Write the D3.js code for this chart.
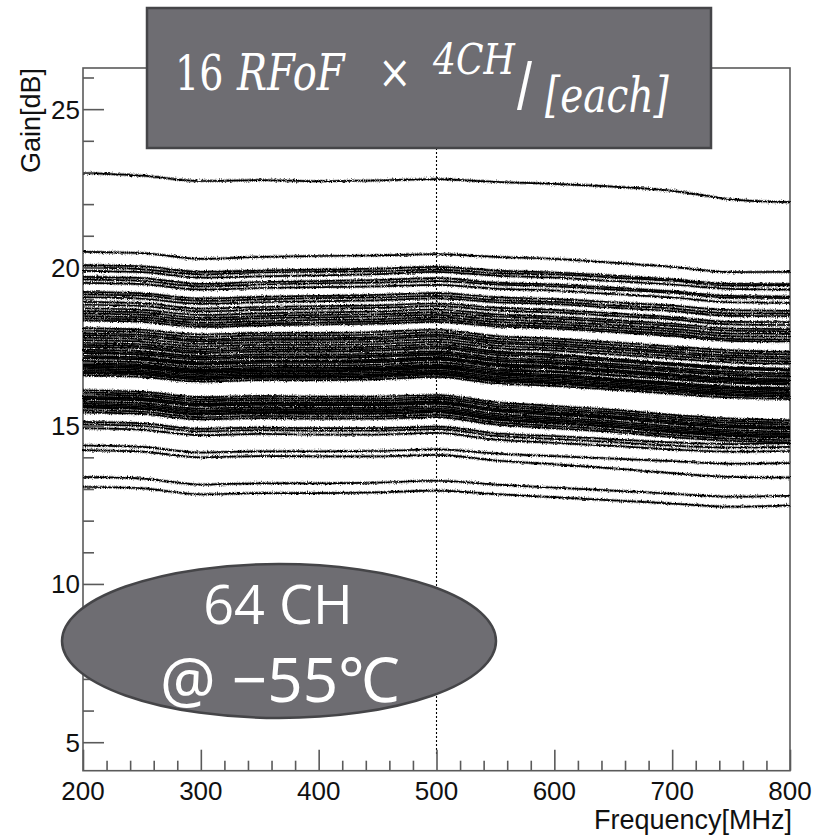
<!DOCTYPE html>
<html>
<head>
<meta charset="utf-8">
<script src="https://cdn.jsdelivr.net/npm/d3@7"></script>
<style>
html,body{margin:0;padding:0;background:#fff;}
svg{display:block;}
</style>
</head>
<body>
<svg id="chart" width="815" height="835"></svg>
<script>
// ---------- data ----------
const frequencies = [200,250,300,350,400,450,500,550,600,650,700,750,800];
const xTicks = [200,300,400,500,600,700,800];
const yTicks = [5,10,15,20,25];
const xLabel = "Frequency[MHz]";
const yLabel = "Gain[dB]";
const markerFreq = 500;

const gainTop = [22.98,22.90,22.73,22.76,22.72,22.75,22.79,22.70,22.64,22.55,22.42,22.15,22.06];

const gainUpper = [
 [20.49,20.45,20.27,20.33,20.36,20.38,20.42,20.33,20.27,20.15,20.02,19.85,19.86],
 [20.07,20.03,19.86,19.90,19.93,19.96,20.02,19.90,19.84,19.74,19.62,19.48,19.47],
 [20.00,19.94,19.78,19.84,19.86,19.88,19.93,19.82,19.78,19.68,19.58,19.42,19.44],
 [19.89,19.85,19.68,19.72,19.75,19.79,19.86,19.74,19.68,19.57,19.46,19.32,19.30],
 [19.70,19.66,19.48,19.54,19.57,19.60,19.66,19.52,19.46,19.36,19.24,19.10,19.08],
 [19.62,19.57,19.40,19.46,19.50,19.52,19.57,19.46,19.40,19.30,19.20,19.04,19.03],
 [19.51,19.47,19.30,19.35,19.38,19.40,19.45,19.33,19.27,19.16,19.05,18.90,18.88],
 [19.23,19.18,19.02,19.07,19.10,19.13,19.19,19.06,19.00,18.90,18.79,18.65,18.63],
 [19.15,19.11,18.94,18.99,19.03,19.05,19.10,18.97,18.91,18.80,18.70,18.55,18.54],
 [19.06,19.01,18.85,18.90,18.93,18.96,19.02,18.90,18.84,18.73,18.62,18.47,18.46],
 [18.91,18.87,18.70,18.75,18.78,18.80,18.86,18.73,18.66,18.55,18.43,18.28,18.27],
 [18.82,18.78,18.61,18.66,18.70,18.72,18.78,18.64,18.58,18.47,18.36,18.20,18.18],
 [18.71,18.66,18.50,18.55,18.58,18.61,18.67,18.52,18.45,18.34,18.22,18.07,18.05],
 [18.62,18.58,18.41,18.46,18.50,18.52,18.58,18.45,18.38,18.27,18.15,18.00,17.98],
 [18.55,18.50,18.34,18.39,18.42,18.45,18.50,18.36,18.29,18.18,18.06,17.91,17.90],
 [18.46,18.42,18.25,18.30,18.34,18.36,18.42,18.28,18.21,18.10,17.98,17.83,17.81],
 [18.39,18.35,18.18,18.23,18.26,18.29,18.35,18.20,18.13,18.02,17.90,17.74,17.72],
 [18.33,18.28,18.12,18.17,18.20,18.22,18.28,18.14,18.07,17.96,17.84,17.68,17.66]
];

const gainMiddle = [
 [18.08,18.03,17.88,17.93,17.93,17.96,18.03,17.83,17.75,17.63,17.50,17.38,17.33],
 [18.00,17.95,17.80,17.85,17.85,17.88,17.95,17.75,17.67,17.55,17.42,17.30,17.25],
 [17.92,17.87,17.72,17.77,17.77,17.80,17.87,17.67,17.59,17.47,17.34,17.22,17.17],
 [17.86,17.81,17.66,17.71,17.71,17.74,17.81,17.61,17.53,17.41,17.28,17.16,17.11],
 [17.78,17.73,17.58,17.63,17.63,17.66,17.73,17.53,17.45,17.33,17.20,17.08,17.03],
 [17.70,17.65,17.50,17.55,17.55,17.58,17.65,17.45,17.37,17.25,17.12,17.00,16.95],
 [17.62,17.57,17.42,17.47,17.47,17.50,17.57,17.35,17.25,17.10,16.95,16.82,16.77],
 [17.55,17.50,17.35,17.40,17.40,17.43,17.50,17.30,17.22,17.10,16.97,16.85,16.80],
 [17.49,17.44,17.29,17.34,17.34,17.37,17.44,17.24,17.16,17.04,16.91,16.79,16.74],
 [17.40,17.35,17.20,17.25,17.25,17.28,17.35,17.15,17.07,16.95,16.82,16.70,16.65],
 [17.34,17.29,17.14,17.19,17.19,17.22,17.29,17.09,17.01,16.89,16.76,16.64,16.59],
 [17.29,17.24,17.09,17.14,17.14,17.17,17.24,17.04,16.96,16.84,16.71,16.59,16.54],
 [17.21,17.16,17.01,17.06,17.06,17.09,17.16,16.96,16.88,16.76,16.63,16.51,16.46],
 [17.17,17.12,16.97,17.02,17.02,17.05,17.12,16.92,16.84,16.72,16.59,16.47,16.42],
 [17.13,17.08,16.93,16.98,16.98,17.01,17.08,16.88,16.80,16.68,16.55,16.43,16.38],
 [17.05,17.00,16.85,16.90,16.90,16.93,17.00,16.80,16.72,16.60,16.47,16.35,16.30],
 [16.98,16.93,16.78,16.83,16.83,16.86,16.93,16.75,16.69,16.59,16.48,16.38,16.33],
 [16.94,16.89,16.74,16.79,16.79,16.82,16.89,16.69,16.61,16.49,16.36,16.24,16.19],
 [16.90,16.85,16.70,16.75,16.75,16.78,16.85,16.65,16.57,16.45,16.32,16.20,16.15],
 [16.86,16.81,16.66,16.71,16.71,16.74,16.81,16.61,16.53,16.41,16.28,16.16,16.11],
 [16.80,16.75,16.60,16.65,16.65,16.68,16.75,16.55,16.47,16.35,16.22,16.10,16.05],
 [16.75,16.70,16.55,16.60,16.60,16.63,16.70,16.50,16.42,16.30,16.17,16.05,16.00],
 [16.70,16.65,16.50,16.55,16.55,16.58,16.65,16.45,16.37,16.25,16.12,16.00,15.95],
 [16.66,16.61,16.46,16.51,16.51,16.54,16.61,16.41,16.33,16.21,16.08,15.96,15.91],
 [16.59,16.54,16.39,16.44,16.44,16.47,16.54,16.34,16.26,16.14,16.01,15.89,15.84]
];

const gainLower = [
 [16.12,16.07,15.90,15.94,15.92,15.92,15.97,15.74,15.62,15.50,15.34,15.22,15.17],
 [16.05,16.00,15.83,15.87,15.85,15.85,15.90,15.67,15.55,15.43,15.27,15.15,15.10],
 [15.99,15.94,15.77,15.81,15.79,15.79,15.84,15.61,15.49,15.37,15.21,15.09,15.04],
 [15.92,15.87,15.70,15.74,15.72,15.72,15.77,15.54,15.42,15.30,15.14,15.02,14.97],
 [15.88,15.83,15.66,15.70,15.68,15.68,15.73,15.50,15.38,15.26,15.10,14.98,14.93],
 [15.84,15.79,15.62,15.66,15.64,15.64,15.69,15.46,15.34,15.22,15.06,14.94,14.89],
 [15.76,15.71,15.54,15.58,15.56,15.56,15.61,15.38,15.26,15.14,14.98,14.86,14.81],
 [15.70,15.65,15.48,15.52,15.50,15.50,15.55,15.32,15.20,15.08,14.92,14.80,14.75],
 [15.65,15.60,15.43,15.47,15.45,15.45,15.50,15.27,15.15,15.03,14.87,14.75,14.70],
 [15.60,15.55,15.38,15.42,15.40,15.40,15.45,15.22,15.10,14.98,14.82,14.70,14.65],
 [15.57,15.52,15.35,15.39,15.37,15.37,15.42,15.19,15.07,14.95,14.79,14.67,14.62],
 [15.49,15.44,15.27,15.31,15.29,15.29,15.34,15.11,14.99,14.87,14.71,14.59,14.54],
 [15.42,15.37,15.20,15.24,15.22,15.22,15.27,15.04,14.92,14.80,14.64,14.52,14.47],
 [15.12,15.07,14.90,14.94,14.92,14.92,14.97,14.76,14.67,14.57,14.47,14.42,14.45],
 [15.04,14.99,14.82,14.86,14.84,14.84,14.89,14.68,14.58,14.48,14.37,14.31,14.33],
 [14.92,14.87,14.70,14.74,14.72,14.72,14.77,14.56,14.46,14.36,14.25,14.18,14.20]
];

const gainBottom = [
 [14.38,14.33,14.15,14.19,14.19,14.20,14.25,14.12,14.04,13.96,13.88,13.80,13.82],
 [14.23,14.18,14.00,14.04,14.03,14.03,14.08,13.90,13.78,13.65,13.50,13.38,13.36],
 [13.38,13.33,13.14,13.18,13.18,13.20,13.26,13.14,13.04,12.95,12.85,12.76,12.78],
 [13.07,13.02,12.83,12.87,12.87,12.89,12.95,12.84,12.74,12.64,12.54,12.44,12.48]
];

const channels = [gainTop].concat(gainUpper, gainMiddle, gainLower, gainBottom);

// ---------- layout ----------
const svg = d3.select("#chart");
const x = d3.scaleLinear().domain([200,800]).range([83,790]);
const y = d3.scaleLinear().domain([4.1,26.3]).range([770.7,68]);
const axisColor = "#5a5a5a";
const sans = "'Liberation Sans', Arial, Helvetica, sans-serif";

// texture filter for the measured traces (visual style only)
const defs = svg.append("defs");
const filt = defs.append("filter").attr("id","grain")
  .attr("filterUnits","userSpaceOnUse")
  .attr("x",0).attr("y",0).attr("width",815).attr("height",835);
filt.append("feTurbulence").attr("type","fractalNoise")
  .attr("baseFrequency","0.8 0.5").attr("numOctaves",2).attr("seed",3).attr("result","noise");
filt.append("feDisplacementMap").attr("in","SourceGraphic").attr("in2","noise")
  .attr("scale",3).attr("xChannelSelector","R").attr("yChannelSelector","G");

// frame
svg.append("rect")
  .attr("x", x(200)).attr("y", y(26.3))
  .attr("width", x(800)-x(200)).attr("height", y(4.1)-y(26.3))
  .attr("fill","none").attr("stroke",axisColor).attr("stroke-width",1.6);

// lines
const line = d3.line()
  .x((d,i)=>x(frequencies[i]))
  .y(d=>y(d))
  .curve(d3.curveMonotoneX);

const gLines = svg.append("g").attr("filter","url(#grain)");
gLines.selectAll("path.fuzz").data(channels).join("path")
  .attr("class","fuzz")
  .attr("d", line)
  .attr("fill","none")
  .attr("stroke","#000")
  .attr("stroke-opacity",0.6)
  .attr("stroke-width",3.6)
  .attr("stroke-dasharray","0.9 1.3");
gLines.selectAll("path.core").data(channels).join("path")
  .attr("class","core")
  .attr("d", line)
  .attr("fill","none")
  .attr("stroke","#000")
  .attr("stroke-width",1.7);

// dotted marker line at 500 MHz
svg.append("line")
  .attr("x1",x(markerFreq)).attr("x2",x(markerFreq))
  .attr("y1",y(26.3)).attr("y2",y(4.6))
  .attr("stroke","#000").attr("stroke-width",1.1)
  .attr("stroke-dasharray","2 2");

// y axis ticks (inward)
const yMinor = d3.range(5,27,1).filter(v=>v%5!==0);
const yAxisMaj = d3.axisRight(y).tickValues(yTicks).tickSize(21).tickFormat("");
const yAxisMin = d3.axisRight(y).tickValues(yMinor).tickSize(11).tickFormat("");
[yAxisMaj,yAxisMin].forEach(ax=>{
  const g = svg.append("g").attr("transform",`translate(${x(200)},0)`).call(ax);
  g.select(".domain").remove();
  g.selectAll("line").attr("stroke",axisColor).attr("stroke-width",1.6);
});
svg.append("g").selectAll("text").data(yTicks).join("text")
  .attr("x",80).attr("y",d=>y(d)).attr("dy","0.36em")
  .attr("text-anchor","end")
  .style("font-family",sans).style("font-size","26px").attr("fill","#111")
  .text(d=>d);

// x axis ticks (inward)
const xMinor = d3.range(200,801,20).filter(v=>v%100!==0);
const xAxisMaj = d3.axisTop(x).tickValues(xTicks).tickSize(21).tickFormat("");
const xAxisMin = d3.axisTop(x).tickValues(xMinor).tickSize(10).tickFormat("");
[xAxisMaj,xAxisMin].forEach(ax=>{
  const g = svg.append("g").attr("transform",`translate(0,${y(4.1)})`).call(ax);
  g.select(".domain").remove();
  g.selectAll("line").attr("stroke",axisColor).attr("stroke-width",1.6);
});
svg.append("g").selectAll("text").data(xTicks).join("text")
  .attr("x",d=>x(d)).attr("y",800)
  .attr("text-anchor","middle")
  .style("font-family",sans).style("font-size","26px").attr("fill","#111")
  .text(d=>d);

// axis titles
svg.append("text")
  .attr("x",792).attr("y",829).attr("text-anchor","end")
  .style("font-family",sans).style("font-size","27px").attr("fill","#111")
  .text(xLabel);
svg.append("text")
  .attr("transform","translate(40,68) rotate(-90)")
  .attr("text-anchor","end")
  .style("font-family",sans).style("font-size","27px").attr("fill","#111")
  .text(yLabel);

// ---------- annotations ----------
const boxFill = "#6e6d72", boxStroke = "#454548";
svg.append("rect")
  .attr("x",147).attr("y",8).attr("width",564).attr("height",140)
  .attr("fill",boxFill).attr("stroke",boxStroke).attr("stroke-width",2.5);

const serif = "'DejaVu Serif', 'Liberation Serif', serif";
function mathText(str, x0, y0, size, italic, sy, fam){
  svg.append("text")
    .attr("transform",`translate(${x0},${y0}) scale(1,${sy})`)
    .attr("fill","#fff")
    .style("font-family",fam||serif)
    .style("font-size",size+"px")
    .style("font-style",italic?"italic":"normal")
    .text(str);
}
mathText("16", 175, 90, 38, false, 1.27);
mathText("RFoF", 237, 90, 40, true, 1.25);
mathText("×", 378, 88, 40, false, 1.15);
mathText("4CH", 433, 74, 36, true, 1.2);
mathText("/", 517, 109, 54, false, 1.25, sans);
mathText("[each]", 545, 112, 39, true, 1.22);

svg.append("ellipse")
  .attr("cx",279).attr("cy",641).attr("rx",217).attr("ry",77)
  .attr("fill",boxFill).attr("stroke",boxStroke).attr("stroke-width",2.5);
svg.append("text").attr("x",278).attr("y",624).attr("text-anchor","middle")
  .style("font-family","'Open Sans', 'Noto Sans', sans-serif").style("font-size","54px")
  .attr("fill","#fff").text("64 CH");
svg.append("text").attr("x",280).attr("y",702).attr("text-anchor","middle")
  .style("font-family","'Noto Sans', 'Open Sans', sans-serif").style("font-size","62px")
  .attr("fill","#fff").text("@ −55℃");
</script>
</body>
</html>
